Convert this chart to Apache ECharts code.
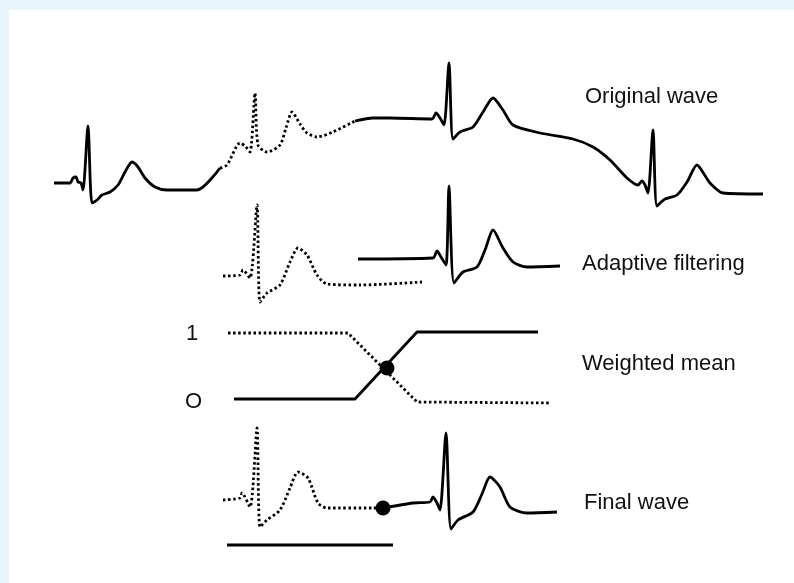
<!DOCTYPE html>
<html>
<head>
    <meta http-equiv="Content-Type" content="text/html; charset=utf-8" />
    <title>Wave splicing</title>
    <style>
        html, body { margin: 0; padding: 0; background: #E8F6FC; }
        #main { width: 794px; height: 583px; }
    </style>
</head>
<body>
    <div id="main"></div>
    <script src="https://cdn.jsdelivr.net/npm/echarts@6/dist/echarts.min.js"></script>
    <script type="text/javascript">
        // x = time, y = amplitude (drawing units, y grows downwards)
        var origFirst = [
            [54,183],[70,183],[73,178],[76,177],[78,182],[81,183],[83,190],[88,126],[92,203],
            [97,200],[102,195],[110,192],[118,185],[125,172],[132,162],[138,167],[145,178],
            [155,187],[167,190],[197,190],[220,168]
        ];
        var origGap = [
            [220,168],[227,165],[240,143],[245,146],[250,152],[255,93],[258,145],[267,152],
            [280,145],[286,128],[292,112],[300,124],[307,133],[317,137],[333,132],[355,121]
        ];
        var origSecond = [
            [355,121],[373,118],[390,118],[432,119],[436,113],[440,118],[444,125],[449,63],
            [453,139],[460,132],[473,127],[483,112],[493,98],[503,110],[513,125],[540,133],
            [573,139],[593,147],[610,160],[627,178],[638,185],[642,181],[645,185],[648,193],
            [653,130],[657,206],[665,199],[677,195],[687,182],[697,165],[704,174],[710,183],
            [723,193],[763,194]
        ];
        var adaptDotted = [
            [223,276],[240,275],[243,270],[250,278],[257,205],[260,302],[267,293],[280,285],
            [290,262],[298,248],[307,255],[317,275],[327,284],[360,285],[422,282]
        ];
        var adaptSolid = [
            [358,259],[433,258],[437,251],[441,257],[446,265],[449,186],[454,283],[463,272],
            [477,267],[485,250],[493,230],[503,248],[513,262],[527,267],[560,266]
        ];
        var weightDotted = [[228,333],[348,333],[417,402],[550,403]];
        var weightSolid = [[234,399],[355,399],[417,332],[538,332]];
        var weightCross = [[387,368]];
        var finalDotted = [
            [223,500],[240,498],[242,493],[250,507],[257,428],[260,527],[267,520],[280,510],
            [290,488],[298,472],[308,478],[318,503],[327,508],[373,508],[383,508]
        ];
        var finalSolid = [
            [383,508],[413,503],[430,502],[433,497],[437,503],[440,510],[446,433],[451,529],
            [458,520],[473,512],[482,494],[490,477],[500,487],[510,507],[527,513],[557,512]
        ];
        var finalJoin = [[383,508]];
        var finalBar = [[227,545],[393,545]];

        var captions = [
            {text: 'Original wave', x: 585, y: 97},
            {text: 'Adaptive filtering', x: 582, y: 264},
            {text: 'Weighted mean', x: 582, y: 364},
            {text: 'Final wave', x: 584, y: 503}
        ];
        var levelTicks = [
            {text: '1', x: 186, y: 334},
            {text: 'O', x: 185, y: 402}
        ];

        var solid = {color: '#000', width: 2.8, type: 'solid'};
        var dotted = {color: '#000', width: 2.8, type: [2.5, 2.6]};

        function line(data, style, smooth) {
            return {
                type: 'line',
                data: data,
                smooth: smooth,
                showSymbol: false,
                symbol: 'none',
                lineStyle: style,
                silent: true
            };
        }
        function dot(data) {
            return {
                type: 'scatter',
                data: data,
                symbolSize: 15,
                itemStyle: {color: '#000', opacity: 1},
                z: 5,
                silent: true
            };
        }

        var texts = captions.concat(levelTicks).map(function (c) {
            return {
                type: 'text',
                x: c.x,
                y: c.y,
                style: {
                    text: c.text,
                    fill: '#111',
                    font: '22px "Liberation Sans", Arial, sans-serif',
                    verticalAlign: 'middle'
                },
                z: 10
            };
        });

        var option = {
            animation: false,
            backgroundColor: 'transparent',
            grid: {left: 0, right: 0, top: 0, bottom: 0},
            xAxis: {type: 'value', min: 0, max: 794, show: false},
            yAxis: {type: 'value', min: 0, max: 583, inverse: true, show: false},
            graphic: [
                {type: 'rect', shape: {x: 9, y: 10, width: 785, height: 573}, style: {fill: '#fff'}, z: -10}
            ].concat(texts),
            series: [
                line(origFirst, solid, 0.25),
                line(origGap, dotted, 0.25),
                line(origSecond, solid, 0.25),
                line(adaptDotted, dotted, 0.25),
                line(adaptSolid, solid, 0.25),
                line(weightDotted, dotted, false),
                line(weightSolid, solid, false),
                dot(weightCross),
                line(finalDotted, dotted, 0.25),
                line(finalSolid, solid, 0.25),
                dot(finalJoin),
                line(finalBar, solid, false)
            ]
        };

        var myChart = echarts.init(document.getElementById('main'));
        myChart.setOption(option);
    </script>
</body>
</html>
